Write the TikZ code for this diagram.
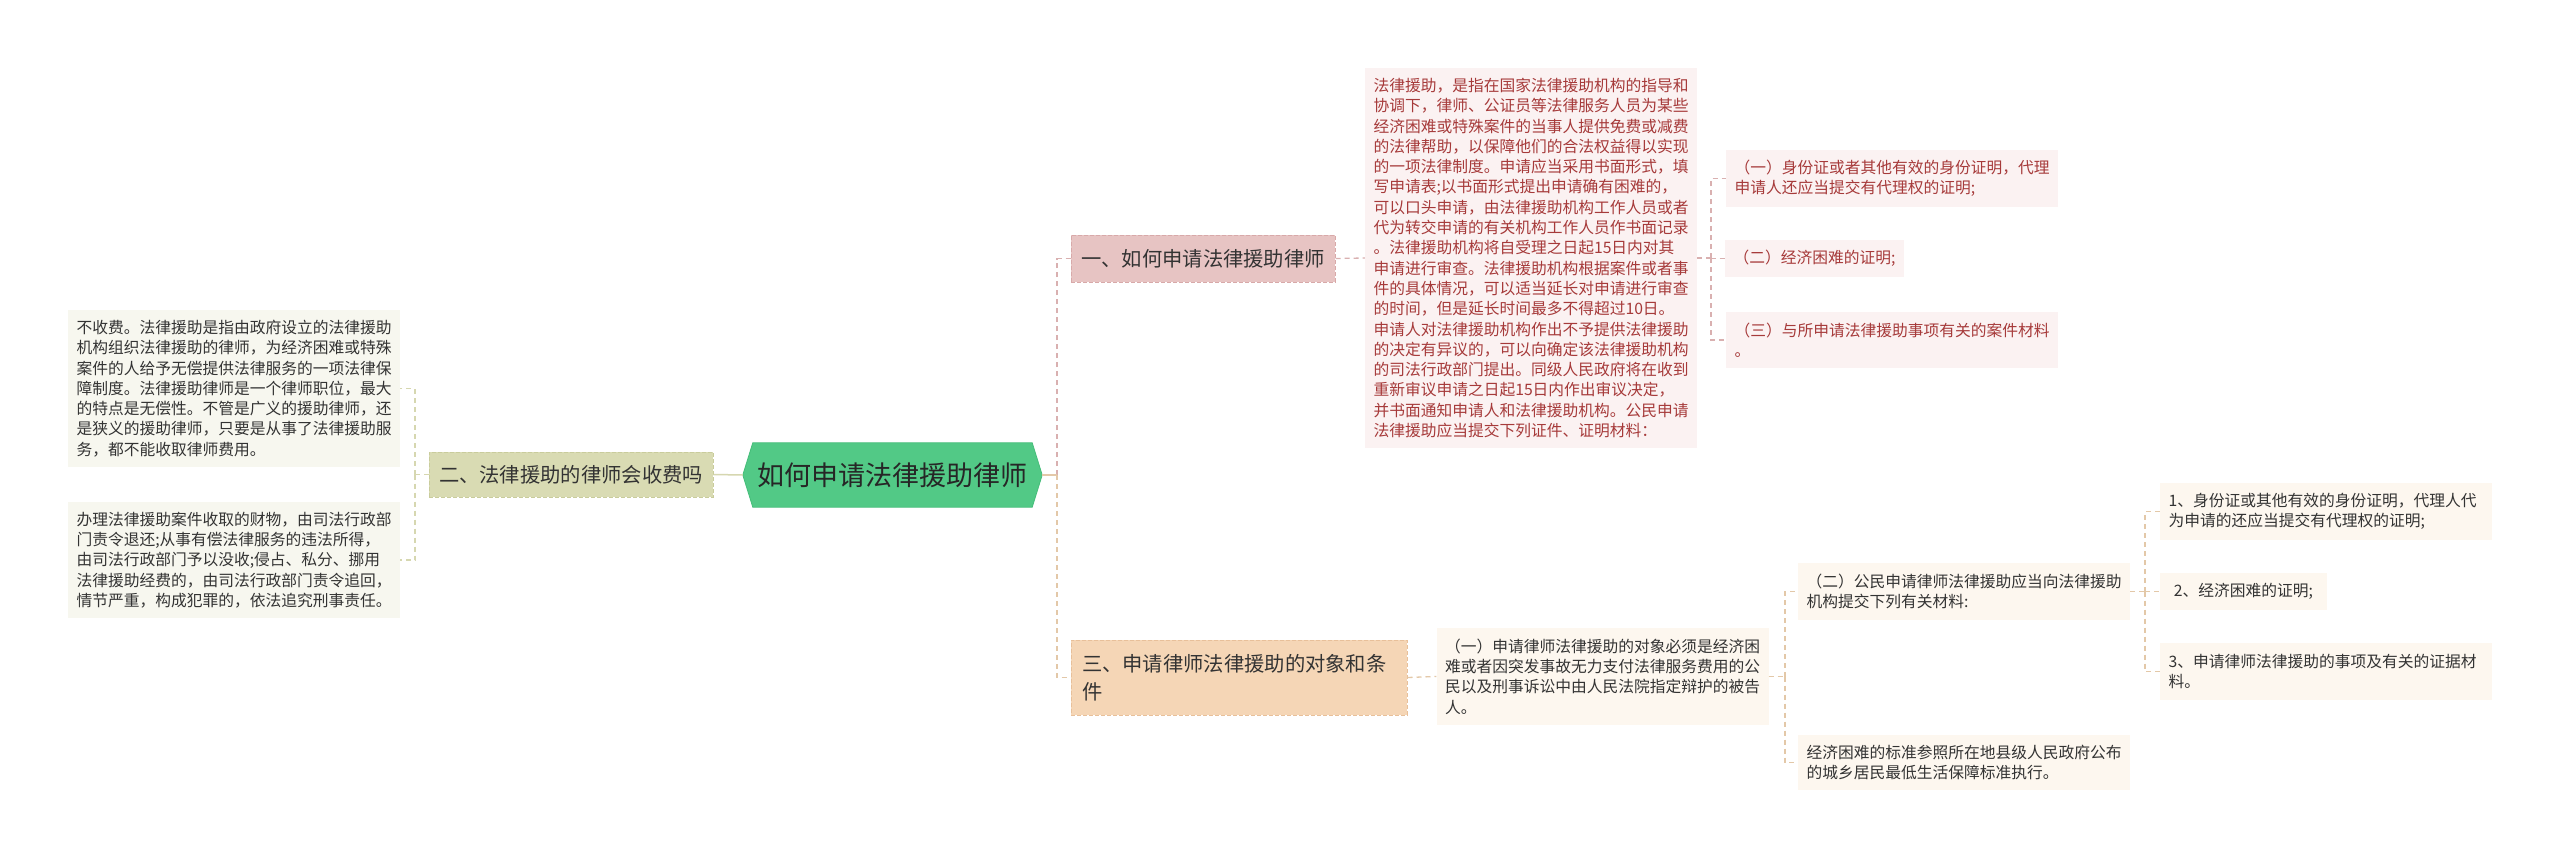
\documentclass[tikz,border=0pt]{standalone}
\usepackage{fontspec}
\setmainfont{Noto Sans CJK SC}
\usetikzlibrary{backgrounds}
\definecolor{cgreen}{HTML}{52C986}
\definecolor{cgreenb}{HTML}{45BD79}
\definecolor{olivebr}{HTML}{D9DBB3}
\definecolor{olivebd}{HTML}{C9CC9C}
\definecolor{oliveleaf}{HTML}{F7F7EF}
\definecolor{olivel}{HTML}{D6D7B0}
\definecolor{pinkbr}{HTML}{E7C4C3}
\definecolor{pinkbd}{HTML}{D8A9A9}
\definecolor{pinkleaf}{HTML}{FBF2F2}
\definecolor{pinkl}{HTML}{D9B0B0}
\definecolor{pinktext}{HTML}{A63A3A}
\definecolor{peachbr}{HTML}{F5D6B6}
\definecolor{peachbd}{HTML}{E8C09A}
\definecolor{peachleaf}{HTML}{FDF7EF}
\definecolor{peachl}{HTML}{E3C8A8}
\definecolor{darktext}{HTML}{333333}
\tikzset{
  x=1pt, y=-1pt,
  leaf/.style={rectangle, inner xsep=8.5pt, inner ysep=0pt, align=left,
    text width=315pt, font=\fontsize{15.75pt}{20.3pt}\selectfont, text=darktext},
  shortleaf/.style={rectangle, inner xsep=8.5pt, inner ysep=0pt, align=left,
    font=\fontsize{15.75pt}{20.3pt}\selectfont, text=darktext},
  branch/.style={rectangle, inner xsep=10pt, inner ysep=0pt, align=left,
    font=\fontsize{20.3pt}{28pt}\selectfont, text=darktext, dashed, dash pattern=on 4pt off 2pt, line width=1pt},
  conn/.style={line width=1.3pt, dash pattern=on 5pt off 4pt},
}
\begin{document}
\begin{tikzpicture}
\useasboundingbox (0,0) rectangle (2560,859);

% central
\node[minimum width=299pt, minimum height=64pt, inner sep=0pt,
  font=\fontsize{27pt}{32pt}\selectfont, text=black!85] (c) at (892.5,475) {如何申请法律援助律师};

% left branch and leaves
\node[branch, fill=olivebr, draw=olivebd, minimum width=284pt, minimum height=45pt] (lb) at (571,474.5) {二、法律援助的律师会收费吗};
\node[leaf, fill=oliveleaf, minimum height=157pt] (L1) at (234,388.5) {不收费。法律援助是指由政府设立的法律援助\\机构组织法律援助的律师，为经济困难或特殊\\案件的人给予无偿提供法律服务的一项法律保\\障制度。法律援助律师是一个律师职位，最大\\的特点是无偿性。不管是广义的援助律师，还\\是狭义的援助律师，只要是从事了法律援助服\\务，都不能收取律师费用。};
\node[leaf, fill=oliveleaf, minimum height=116pt] (L2) at (234,560) {办理法律援助案件收取的财物，由司法行政部\\门责令退还;从事有偿法律服务的违法所得，\\由司法行政部门予以没收;侵占、私分、挪用\\法律援助经费的，由司法行政部门责令追回，\\情节严重，构成犯罪的，依法追究刑事责任。};

% branch one
\node[branch, fill=pinkbr, draw=pinkbd, minimum width=264pt, minimum height=47pt] (b1) at (1203,258.5) {一、如何申请法律援助律师};
\node[leaf, fill=pinkleaf, text=pinktext, minimum height=380pt] (P) at (1531,258) {法律援助，是指在国家法律援助机构的指导和\\协调下，律师、公证员等法律服务人员为某些\\经济困难或特殊案件的当事人提供免费或减费\\的法律帮助，以保障他们的合法权益得以实现\\的一项法律制度。申请应当采用书面形式，填\\写申请表;以书面形式提出申请确有困难的，\\可以口头申请，由法律援助机构工作人员或者\\代为转交申请的有关机构工作人员作书面记录\\。法律援助机构将自受理之日起15日内对其\\申请进行审查。法律援助机构根据案件或者事\\件的具体情况，可以适当延长对申请进行审查\\的时间，但是延长时间最多不得超过10日。\\申请人对法律援助机构作出不予提供法律援助\\的决定有异议的，可以向确定该法律援助机构\\的司法行政部门提出。同级人民政府将在收到\\重新审议申请之日起15日内作出审议决定，\\并书面通知申请人和法律援助机构。公民申请\\法律援助应当提交下列证件、证明材料：};
\node[leaf, fill=pinkleaf, text=pinktext, minimum height=57pt] (P1) at (1892,178.5) {（一）身份证或者其他有效的身份证明，代理\\申请人还应当提交有代理权的证明;};
\node[shortleaf, fill=pinkleaf, text=pinktext, minimum width=177pt, minimum height=37pt] (P2) at (1814.5,258.5) {（二）经济困难的证明;};
\node[leaf, fill=pinkleaf, text=pinktext, minimum height=56pt] (P3) at (1892,340) {（三）与所申请法律援助事项有关的案件材料\\。};

% branch three
\node[branch, fill=peachbr, draw=peachbd, minimum height=75pt, text width=314pt, inner xsep=11pt] (b3) at (1239,677.5) {三、申请律师法律援助的对象和条\\件};
\node[leaf, fill=peachleaf, minimum height=97pt] (T1) at (1602.5,676.5) {（一）申请律师法律援助的对象必须是经济困\\难或者因突发事故无力支付法律服务费用的公\\民以及刑事诉讼中由人民法院指定辩护的被告\\人。};
\node[leaf, fill=peachleaf, minimum height=57pt] (T2) at (1964,591.5) {（二）公民申请律师法律援助应当向法律援助\\机构提交下列有关材料:};
\node[leaf, fill=peachleaf, minimum height=55pt] (T3) at (1964,762.5) {经济困难的标准参照所在地县级人民政府公布\\的城乡居民最低生活保障标准执行。};
\node[leaf, fill=peachleaf, minimum height=57pt] (U1) at (2326,511.5) {1、身份证或其他有效的身份证明，代理人代\\为申请的还应当提交有代理权的证明;};
\node[shortleaf, fill=peachleaf, minimum width=167pt, minimum height=37pt] (U2) at (2243.5,591.5) {2、经济困难的证明;};
\node[leaf, fill=peachleaf, minimum height=57pt] (U3) at (2326,671.5) {3、申请律师法律援助的事项及有关的证据材\\料。};

% background and hexagon
\begin{scope}[on background layer]
\fill[white] (0,0) rectangle (2560,859);
\filldraw[fill=cgreen, draw=cgreenb, line width=0.8pt] (c.west) -- ([xshift=10pt]c.north west) -- ([xshift=-10pt]c.north east) -- (c.east) -- ([xshift=-10pt]c.south east) -- ([xshift=10pt]c.south west) -- cycle;
\end{scope}

% junctions
\coordinate (lj) at (415,474.5);
\coordinate (cj) at (1057,475);
\coordinate (pj) at (1711,258);
\coordinate (tj) at (1785,676.5);
\coordinate (uj) at (2145,591.5);

% connectors
\draw[olivel, line width=1.5pt] (c.west) -- (lb.east);
\draw[conn, olivel] (lb.west) -- (lj);
\draw[conn, olivel] (lj) |- (L1.east);
\draw[conn, olivel] (lj) |- (L2.east);

\draw[conn, pinkl] (cj) |- (b1.west);
\draw[conn, peachl] (cj) |- (b3.west);
\draw[peachl, line width=1.5pt] (c.east) -- (cj);

\draw[conn, pinkl] (b1.east) -- (P.west);
\draw[conn, pinkl] (P.east) -- (pj);
\draw[conn, pinkl] (pj) |- (P1.west);
\draw[conn, pinkl] (pj) |- (P2.west);
\draw[conn, pinkl] (pj) |- (P3.west);

\draw[conn, peachl] (b3.east) -- (T1.west);
\draw[conn, peachl] (T1.east) -- (tj);
\draw[conn, peachl] (tj) |- (T2.west);
\draw[conn, peachl] (tj) |- (T3.west);
\draw[conn, peachl] (T2.east) -- (uj);
\draw[conn, peachl] (uj) |- (U1.west);
\draw[conn, peachl] (uj) |- (U2.west);
\draw[conn, peachl] (uj) |- (U3.west);
\end{tikzpicture}
\end{document}
